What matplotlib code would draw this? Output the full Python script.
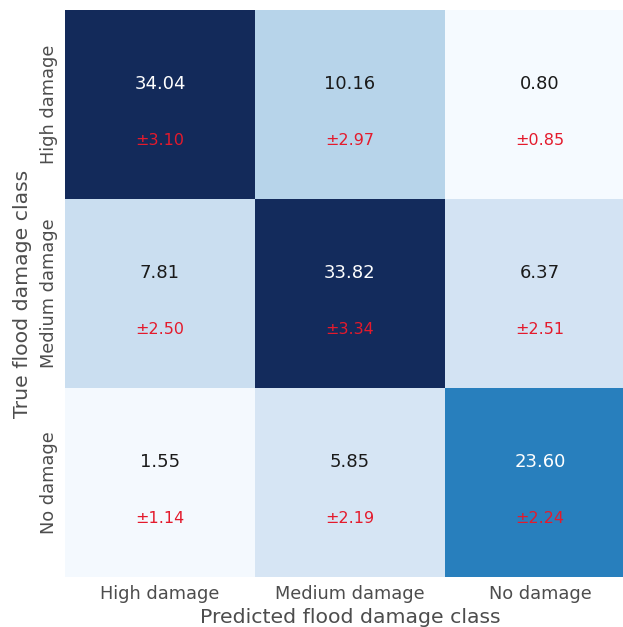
import numpy as np
import matplotlib
matplotlib.use("Agg")
import matplotlib.pyplot as plt
from matplotlib.colors import LinearSegmentedColormap

classes = ["High damage", "Medium damage", "No damage"]

# mean confusion matrix (%) over the runs, rows = true, cols = predicted
cm_mean = np.array([
    [34.04, 10.16, 0.80],
    [7.81, 33.82, 6.37],
    [1.55, 5.85, 23.60],
])
cm_std = np.array([
    [3.10, 2.97, 0.85],
    [2.50, 3.34, 2.51],
    [1.14, 2.19, 2.24],
])

# Blues with a deeper navy at the top end
blues = LinearSegmentedColormap.from_list(
    "blues_navy",
    [(0.0, "#f7fbff"), (0.06, "#f3f8fe"), (0.125, "#deebf7"),
     (0.25, "#c6dbef"), (0.375, "#9ecae1"), (0.5, "#6baed6"),
     (0.625, "#3a8cc4"), (0.75, "#1a74b8"), (0.875, "#0d4a8f"),
     (1.0, "#132a5a")])

label_col = "#4d4d4d"

fig = plt.figure(figsize=(6.23, 6.27), dpi=100)
ax = fig.add_axes([65 / 623, 50 / 627, 570 / 623, 567 / 627])

n = len(classes)
ax.pcolormesh(np.arange(n + 1), np.arange(n + 1), cm_mean,
              cmap=blues, vmin=0, vmax=cm_mean.max())
ax.set_xlim(0, n)
ax.set_ylim(n, 0)

thresh = cm_mean.max() / 2.
for i in range(n):
    for j in range(n):
        ax.text(j + 0.5, i + 0.39, format(cm_mean[i, j], ".2f"),
                ha="center", va="center", fontsize=13,
                color="white" if cm_mean[i, j] > thresh else "#1a1a1a")
        ax.text(j + 0.5, i + 0.69, "\u00b1" + format(cm_std[i, j], ".2f"),
                ha="center", va="center", fontsize=11.5, color="#e41a2c")

ax.set_xticks(np.arange(n) + 0.5)
ax.set_yticks(np.arange(n) + 0.5)
ax.set_xticklabels(classes, fontsize=12.8, color=label_col)
ax.set_yticklabels(classes, fontsize=12.8, color=label_col,
                   rotation=90, va="center")
ax.tick_params(axis="x", length=0, pad=6)
ax.tick_params(axis="y", length=0, pad=5)
for s in ax.spines.values():
    s.set_visible(False)

ax.set_xlabel("Predicted flood damage class", fontsize=14.7,
              color=label_col, labelpad=3.5)
ax.set_ylabel("True flood damage class", fontsize=14.7,
              color=label_col, labelpad=6)

fig.savefig("out.png", dpi=100)
